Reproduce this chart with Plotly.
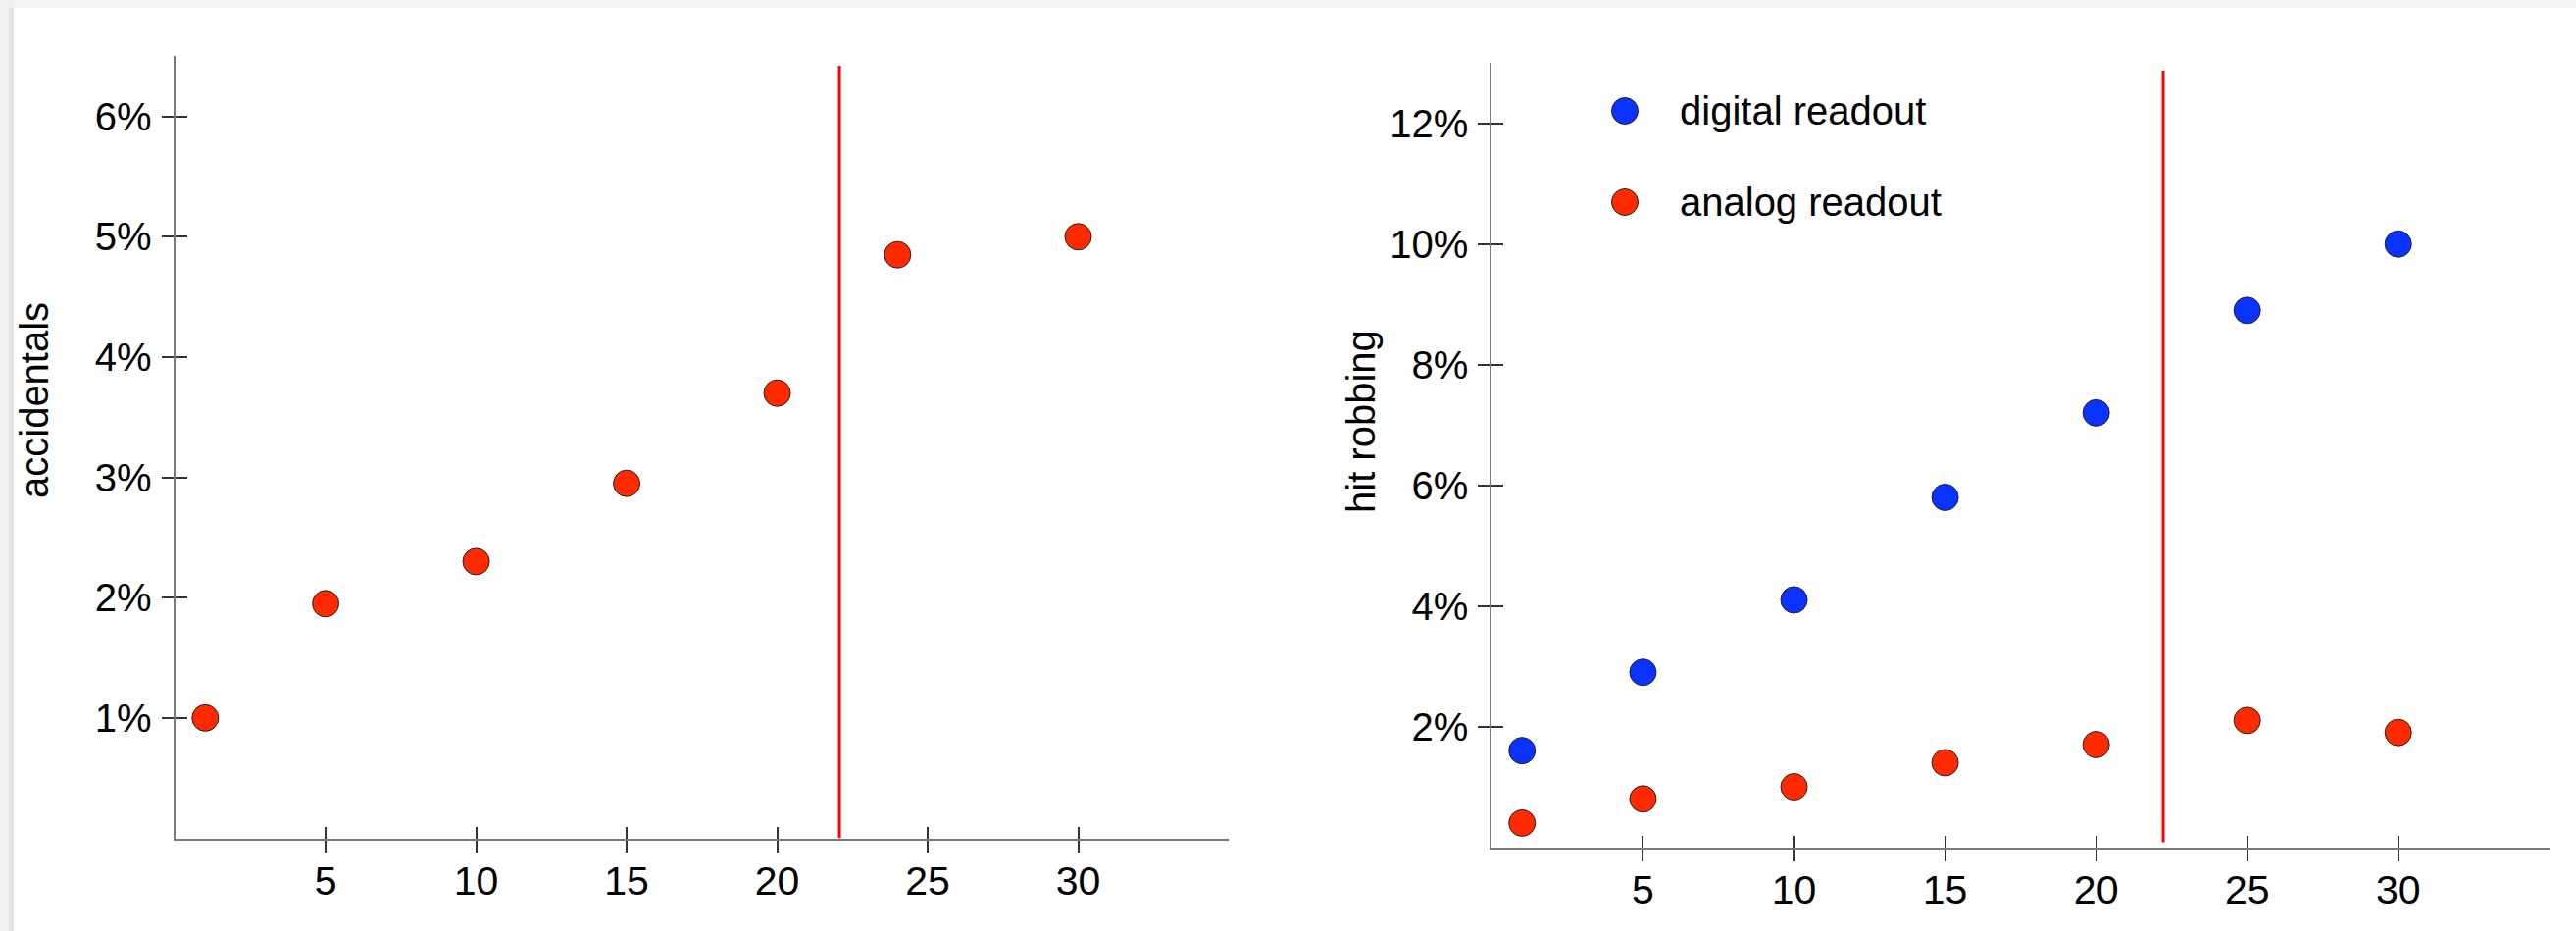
import plotly.graph_objects as go

# ---- data -------------------------------------------------------------
# left panel: accidentals vs. x
acc_x = [1, 5, 10, 15, 20, 24, 30]
acc_y = [1.0, 1.95, 2.3, 2.95, 3.7, 4.85, 5.0]

# right panel: hit robbing vs. x
rob_x = [1, 5, 10, 15, 20, 25, 30]
rob_digital = [1.6, 2.9, 4.1, 5.8, 7.2, 8.9, 10.0]
rob_analog = [0.4, 0.8, 1.0, 1.4, 1.7, 2.1, 1.9]

# vertical cut lines (x position, y extent)
cut_left_x = [22.07, 22.07]
cut_left_y = [0.0, 6.42]
cut_right_x = [22.22, 22.22]
cut_right_y = [0.08, 12.88]

# ticks
x_ticks = [5, 10, 15, 20, 25, 30]
x_ticktext = ["5", "10", "15", "20", "25", "30"]
acc_ticks = [1, 2, 3, 4, 5, 6]
acc_ticktext = ["1%", "2%", "3%", "4%", "5%", "6%"]
rob_ticks = [2, 4, 6, 8, 10, 12]
rob_ticktext = ["2%", "4%", "6%", "8%", "10%", "12%"]

legend_names = ["digital readout", "analog readout"]

# ---- styling ----------------------------------------------------------
W, H = 2627, 949
FONT = "Liberation Sans, Arial, Helvetica, sans-serif"
RED = "#ff2a00"
BLUE = "#0a33ff"
AXIS_GRAY = "#7a7a7a"
TICK_COL = "#333333"
MSIZE = 27


def fx(p):
    return p / W


def fy(p):
    return 1 - p / H


left_xdom = [fx(178.6), fx(1253)]
left_ydom = [fy(854.5), fy(57.3)]
right_xdom = [fx(1521.4), fx(2599.8)]
right_ydom = [fy(863.5), fy(64.3)]

fig = go.Figure()

marker_line = dict(color="#222222", width=1)

fig.add_trace(go.Scatter(x=cut_left_x, y=cut_left_y, mode="lines",
                         line=dict(color="#ff0000", width=3),
                         xaxis="x", yaxis="y", showlegend=False, hoverinfo="skip"))
fig.add_trace(go.Scatter(x=acc_x, y=acc_y, mode="markers",
                         marker=dict(size=MSIZE, color=RED, line=marker_line),
                         xaxis="x", yaxis="y", showlegend=False))

fig.add_trace(go.Scatter(x=cut_right_x, y=cut_right_y, mode="lines",
                         line=dict(color="#ff0000", width=3),
                         xaxis="x2", yaxis="y2", showlegend=False, hoverinfo="skip"))
fig.add_trace(go.Scatter(x=rob_x, y=rob_digital, mode="markers", name=legend_names[0],
                         marker=dict(size=MSIZE, color=BLUE, line=marker_line),
                         xaxis="x2", yaxis="y2", showlegend=False))
fig.add_trace(go.Scatter(x=rob_x, y=rob_analog, mode="markers", name=legend_names[1],
                         marker=dict(size=MSIZE, color=RED, line=marker_line),
                         xaxis="x2", yaxis="y2", showlegend=False))

# empty traces bound to the overlay axes that carry the inner half of the ticks
for xa, ya in (("x3", "y3"), ("x4", "y4")):
    fig.add_trace(go.Scatter(x=[], y=[], xaxis=xa, yaxis=ya,
                             showlegend=False, hoverinfo="skip"))

xtickfont = dict(family=FONT, size=41, color="black")
ytickfont = dict(family=FONT, size=40, color="black")


def main_x(domain, anchor):
    return dict(domain=domain, anchor=anchor, range=[0, 35],
                tickmode="array", tickvals=x_ticks, ticktext=x_ticktext,
                ticks="outside", ticklen=12, tickwidth=1.5, tickcolor=TICK_COL,
                showline=True, linecolor=AXIS_GRAY, linewidth=2,
                showgrid=False, zeroline=False, tickfont=xtickfont,
                ticklabelstandoff=-6)


def main_y(domain, anchor, rng, vals, text):
    return dict(domain=domain, anchor=anchor, range=rng,
                tickmode="array", tickvals=vals, ticktext=text,
                ticks="outside", ticklen=12, tickwidth=1.5, tickcolor=TICK_COL,
                showline=True, linecolor=AXIS_GRAY, linewidth=2,
                showgrid=False, zeroline=False, tickfont=ytickfont,
                ticklabelstandoff=2)


def inner_x(over, anchor):
    return dict(overlaying=over, anchor=anchor, range=[0, 35],
                tickmode="array", tickvals=x_ticks,
                ticks="inside", ticklen=12, tickwidth=1.5, tickcolor=TICK_COL,
                showticklabels=False, showline=False, showgrid=False, zeroline=False)


def inner_y(over, anchor, rng, vals):
    return dict(overlaying=over, anchor=anchor, range=rng,
                tickmode="array", tickvals=vals,
                ticks="inside", ticklen=12, tickwidth=1.5, tickcolor=TICK_COL,
                showticklabels=False, showline=False, showgrid=False, zeroline=False)


annotations = [
    dict(text="accidentals", x=fx(35), y=fy(408), xref="paper", yref="paper",
         textangle=-90, showarrow=False, xanchor="center", yanchor="middle",
         font=dict(family=FONT, size=40, color="black")),
    dict(text="hit robbing", x=fx(1388), y=fy(430), xref="paper", yref="paper",
         textangle=-90, showarrow=False, xanchor="center", yanchor="middle",
         font=dict(family=FONT, size=40, color="black")),
]

# legend keys and labels inside the right panel
legend_rows = [(legend_names[0], BLUE, 113), (legend_names[1], RED, 206)]
shapes = []
for name, col, yc in legend_rows:
    shapes.append(dict(type="circle", xref="paper", yref="paper",
                       xsizemode="pixel", ysizemode="pixel",
                       xanchor=fx(1657), yanchor=fy(yc),
                       x0=-MSIZE / 2, x1=MSIZE / 2, y0=-MSIZE / 2, y1=MSIZE / 2,
                       fillcolor=col, line=dict(color="#222222", width=1)))
    annotations.append(dict(text=name, x=fx(1711), y=fy(yc), xref="paper", yref="paper",
                            showarrow=False, xanchor="left", yanchor="middle",
                            font=dict(family=FONT, size=40, color="black")))

# faint page edge along the top and left
shapes += [
    dict(type="rect", xref="paper", yref="paper", x0=0, x1=1, y0=fy(8), y1=1,
         fillcolor="#f5f5f5", line=dict(width=0), layer="below"),
    dict(type="rect", xref="paper", yref="paper", x0=0, x1=fx(14), y0=0, y1=1,
         fillcolor="#f0f0f0", line=dict(width=0), layer="below"),
    dict(type="rect", xref="paper", yref="paper", x0=fx(9), x1=fx(14), y0=0, y1=fy(8),
         fillcolor="#e4e4e4", line=dict(width=0), layer="below"),
]

fig.update_layout(
    width=W, height=H,
    margin=dict(l=0, r=0, t=0, b=0),
    paper_bgcolor="white", plot_bgcolor="rgba(0,0,0,0)",
    showlegend=False,
    xaxis=main_x(left_xdom, "y"),
    yaxis=main_y(left_ydom, "x", [0, 6.5], acc_ticks, acc_ticktext),
    xaxis2=main_x(right_xdom, "y2"),
    yaxis2=main_y(right_ydom, "x2", [0, 13], rob_ticks, rob_ticktext),
    xaxis3=inner_x("x", "y3"),
    yaxis3=inner_y("y", "x3", [0, 6.5], acc_ticks),
    xaxis4=inner_x("x2", "y4"),
    yaxis4=inner_y("y2", "x4", [0, 13], rob_ticks),
    annotations=annotations,
    shapes=shapes,
)

fig.write_html("out.html")
